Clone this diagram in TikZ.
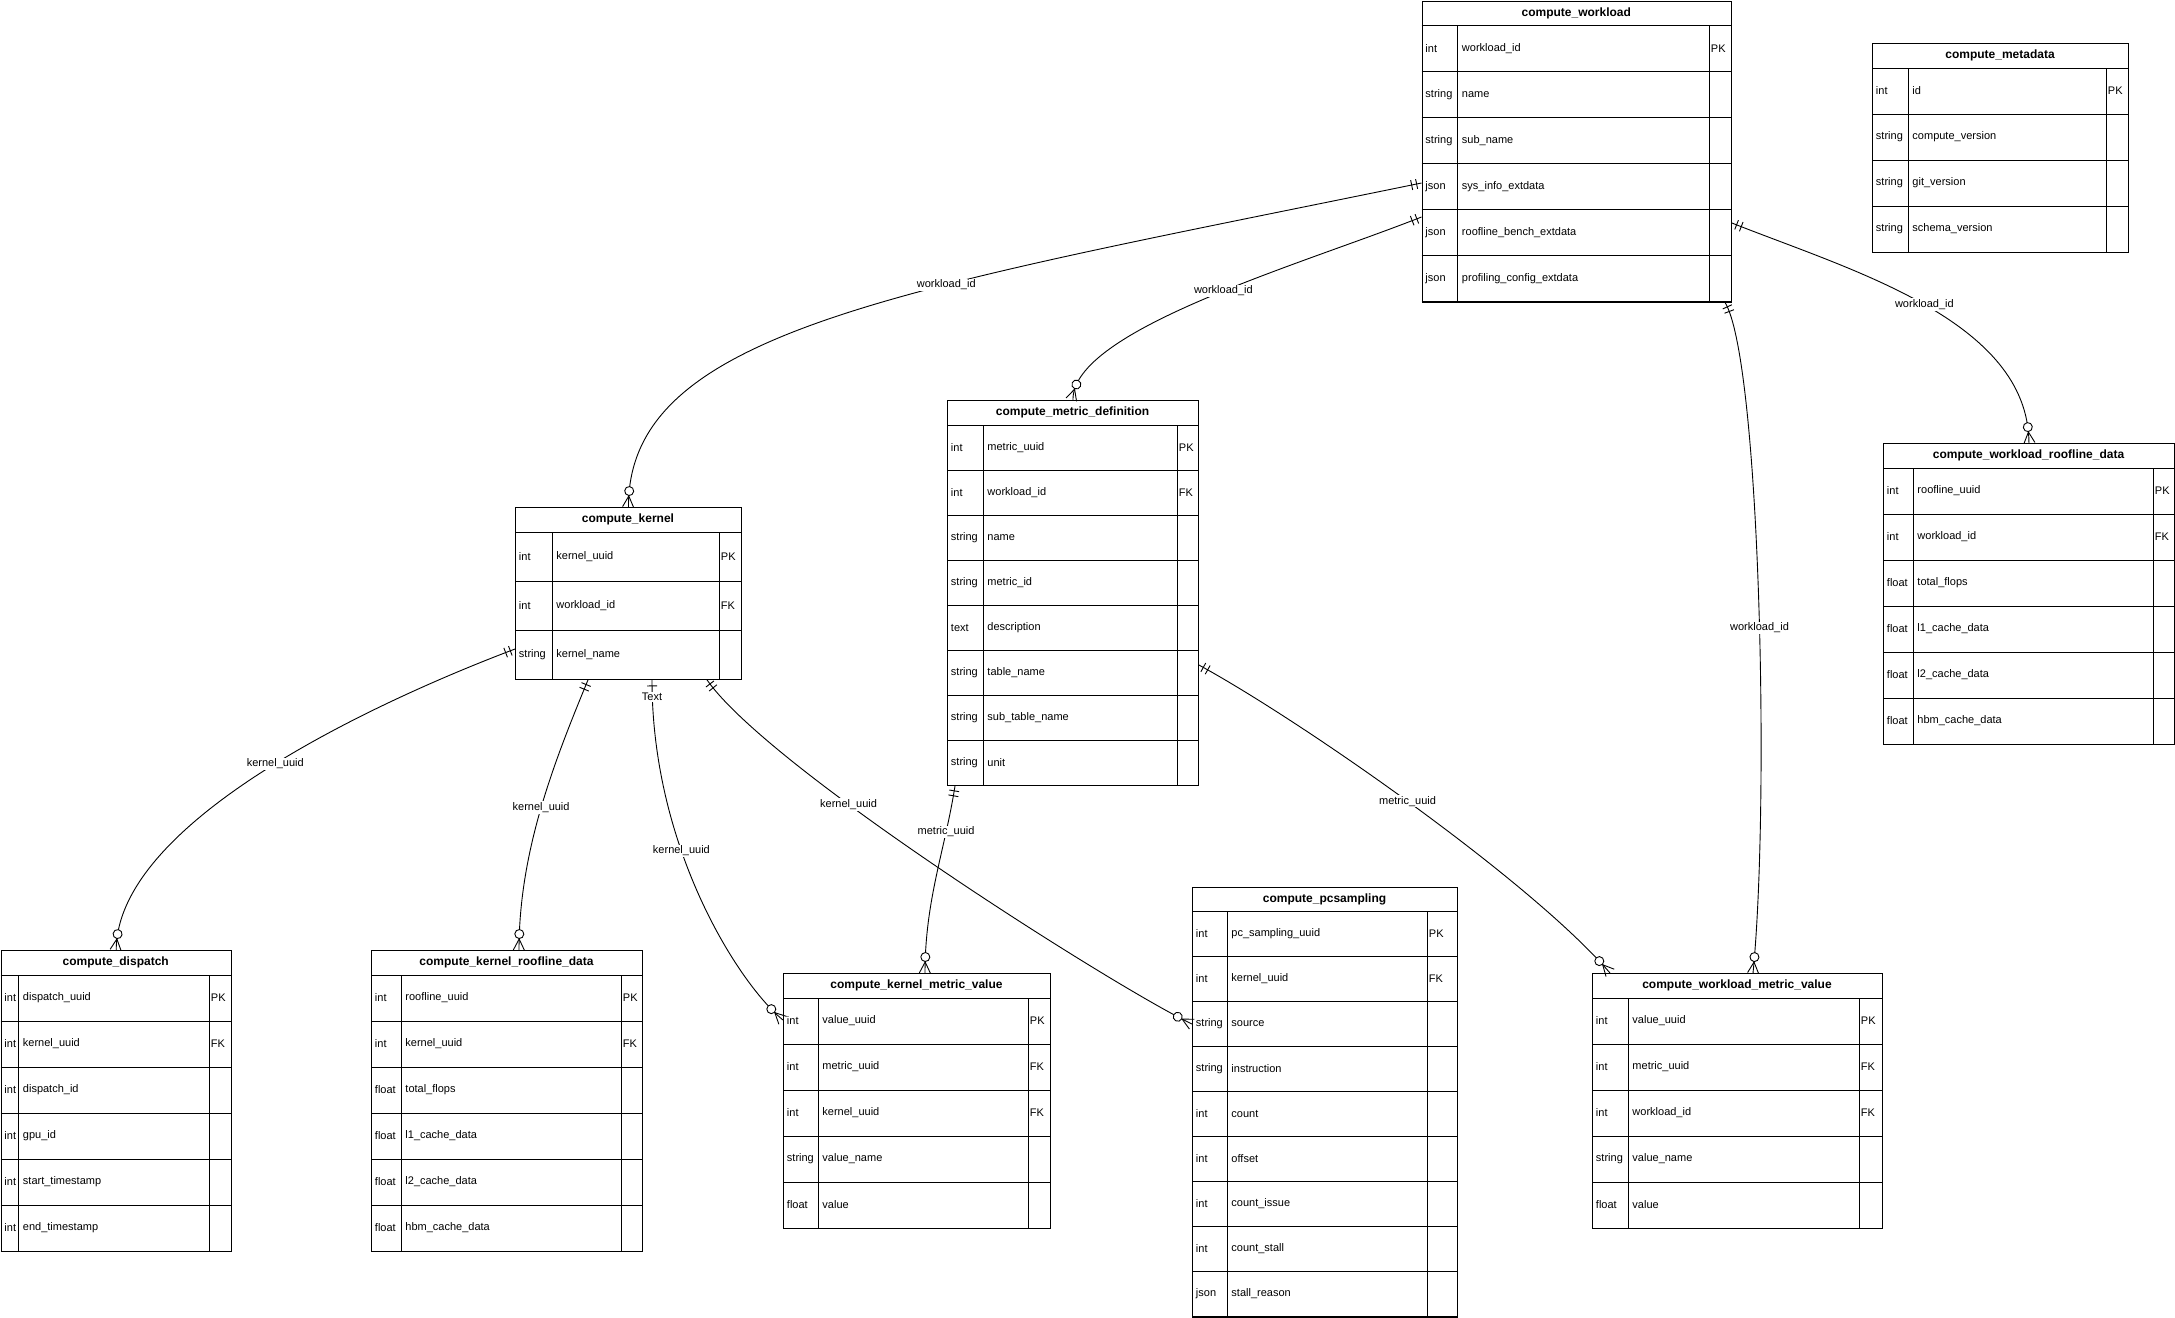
\documentclass[tikz,border=0pt]{standalone}
\usepackage{fontspec}
\setmainfont{Liberation Sans}
\usetikzlibrary{decorations.markings}

\tikzset{
  tblbox/.style={draw, inner sep=0pt},
  tbltitle/.style={inner sep=0pt, font=\bfseries\fontsize{12}{14}\selectfont},
  tblcell/.style={anchor=west, inner sep=0pt, font=\fontsize{11}{13}\selectfont},
  lbl/.style={fill=white, inner sep=1pt, font=\fontsize{11}{13}\selectfont},
  mand one/.style={postaction={decorate, decoration={markings,
      mark=at position 5pt with {\draw (0,-5pt) -- (0,5pt);},
      mark=at position 10pt with {\draw (0,-5pt) -- (0,5pt);}}}},
  one bar/.style={postaction={decorate, decoration={markings,
      mark=at position 6pt with {\draw (0,-5pt) -- (0,5pt);}}}},
  zero many/.style={postaction={decorate, decoration={markings,
      mark=at position -11pt with {\draw (0,0) -- (11pt,5.5pt) (0,0) -- (11pt,-5.5pt);},
      mark=at position -16pt with {\draw[fill=white] (0,0) circle (4.5pt);}}}},
}

% name, x, y, width, row height, type width, key width, title, rows
\newcommand{\ertable}[9]{%
  \begin{scope}[shift={(#2,#3)}]
    \foreach \ty/\fd/\ky [count=\i] in {#9}{
      \draw (0,25+\i*#5) -- (#4,25+\i*#5);
      \node[tblcell] (#1-t\i) at (3.5,25+\i*#5-#5/2) {\ty};
      \node[tblcell] (#1-f\i) at (#6+4,25+\i*#5-#5/2) {\fd};
      \node[tblcell] (#1-k\i) at (#4-#7+1.5,25+\i*#5-#5/2) {\ky};
      \xdef\nrows{\i}
    }
    \draw (0,25) -- (#4,25);
    \draw (#6,25) -- (#6,25+\nrows*#5);
    \draw (#4-#7,25) -- (#4-#7,25+\nrows*#5);
    \node[tblbox, anchor=north west, minimum width=#4 pt,
          minimum height={(25+\nrows*#5)*1pt}] (#1) at (0,0) {};
    \node[tbltitle] (#1-title) at (#4/2,12.5) {#8};
  \end{scope}
}

\begin{document}
\begin{tikzpicture}[x=1pt, y=-1pt, line width=0.9pt]
  \useasboundingbox (0,0) rectangle (2175,1317);

  \ertable{wk}{1421.5}{0.5}{309.5}{46}{36}{22}{compute\_workload}
    {int/workload\_id/PK, string/name/{}, string/sub\_name/{}, json/sys\_info\_extdata/{},
     json/roofline\_bench\_extdata/{}, json/profiling\_config\_extdata/{}}
  \ertable{meta}{1872}{43}{256}{46}{36}{22}{compute\_metadata}
    {int/id/PK, string/compute\_version/{}, string/git\_version/{}, string/schema\_version/{}}
  \ertable{k}{515}{507}{226}{49}{37}{22}{compute\_kernel}
    {int/kernel\_uuid/PK, int/workload\_id/FK, string/kernel\_name/{}}
  \ertable{md}{947}{400}{251}{45}{36}{21}{compute\_metric\_definition}
    {int/metric\_uuid/PK, int/workload\_id/FK, string/name/{}, string/metric\_id/{},
     text/description/{}, string/table\_name/{}, string/sub\_table\_name/{}, string/unit/{}}
  \ertable{wr}{1883}{443}{291}{46}{30}{21}{compute\_workload\_roofline\_data}
    {int/roofline\_uuid/PK, int/workload\_id/FK, float/total\_flops/{}, float/l1\_cache\_data/{},
     float/l2\_cache\_data/{}, float/hbm\_cache\_data/{}}
  \ertable{disp}{0.5}{950}{230.5}{46}{18}{22}{compute\_dispatch}
    {int/dispatch\_uuid/PK, int/kernel\_uuid/FK, int/dispatch\_id/{}, int/gpu\_id/{},
     int/start\_timestamp/{}, int/end\_timestamp/{}}
  \ertable{krd}{371}{950}{271}{46}{30}{21}{compute\_kernel\_roofline\_data}
    {int/roofline\_uuid/PK, int/kernel\_uuid/FK, float/total\_flops/{}, float/l1\_cache\_data/{},
     float/l2\_cache\_data/{}, float/hbm\_cache\_data/{}}
  \ertable{kmv}{783}{973}{267}{46}{35}{22}{compute\_kernel\_metric\_value}
    {int/value\_uuid/PK, int/metric\_uuid/FK, int/kernel\_uuid/FK, string/value\_name/{}, float/value/{}}
  \ertable{pcs}{1192}{886.5}{265}{45}{35}{30}{compute\_pcsampling}
    {int/pc\_sampling\_uuid/PK, int/kernel\_uuid/FK, string/source/{}, string/instruction/{},
     int/count/{}, int/offset/{}, int/count\_issue/{}, int/count\_stall/{}, json/stall\_reason/{}}
  \ertable{wmv}{1592}{973}{290}{46}{36}{23}{compute\_workload\_metric\_value}
    {int/value\_uuid/PK, int/metric\_uuid/FK, int/workload\_id/FK, string/value\_name/{}, float/value/{}}

  % relations
  \draw[mand one, zero many] (wk.west |- 0,183) .. controls (900,290) and (628,330) .. (k.north)
    node[lbl, pos=0.37] (r1) {workload\_id};
  \draw[mand one, zero many] (wk.west |- 0,217) .. controls (1300,265) and (1072,330) .. (md.north)
    node[lbl, pos=0.45] (r2) {workload\_id};
  \draw[mand one, zero many] (wk.east |- 0,223) .. controls (1850,270) and (2028,320) .. (wr.north)
    node[lbl, pos=0.5] (r3) {workload\_id};
  \draw[mand one, zero many] (wk.south -| 1725,0) .. controls (1760,360) and (1770,800) .. (wmv.north -| 1753,0)
    node[lbl, pos=0.54] (r4) {workload\_id};
  \draw[mand one, zero many] (k.west |- 0,649) .. controls (380,700) and (117,820) .. (disp.north)
    node[lbl, pos=0.48] (r5) {kernel\_uuid};
  \draw[mand one, zero many] (k.south -| 588,0) .. controls (555,760) and (519,850) .. (krd.north -| 519,0)
    node[lbl, pos=0.5] (r6) {kernel\_uuid};
  \draw[one bar, zero many] (k.south -| 652,0) .. controls (652,850) and (740,985) .. (kmv.west |- 0,1020)
    node[lbl, pos=0.37] (r7) {kernel\_uuid};
  \node[lbl] (txt) at (652,697) {Text};
  \draw[mand one, zero many] (k.south -| 707,0) .. controls (770,770) and (1120,990) .. (pcs.west |- 0,1024)
    node[lbl, pos=0.34] (r8) {kernel\_uuid};
  \draw[mand one, zero many] (md.south -| 955,0) .. controls (945,850) and (925,900) .. (kmv.north -| 925,0)
    node[lbl, pos=0.25] (r9) {metric\_uuid};
  \draw[mand one, zero many] (md.east |- 0,665) .. controls (1300,720) and (1530,880) .. (wmv.north -| 1610,0)
    node[lbl, pos=0.49] (r10) {metric\_uuid};
\end{tikzpicture}
\end{document}
